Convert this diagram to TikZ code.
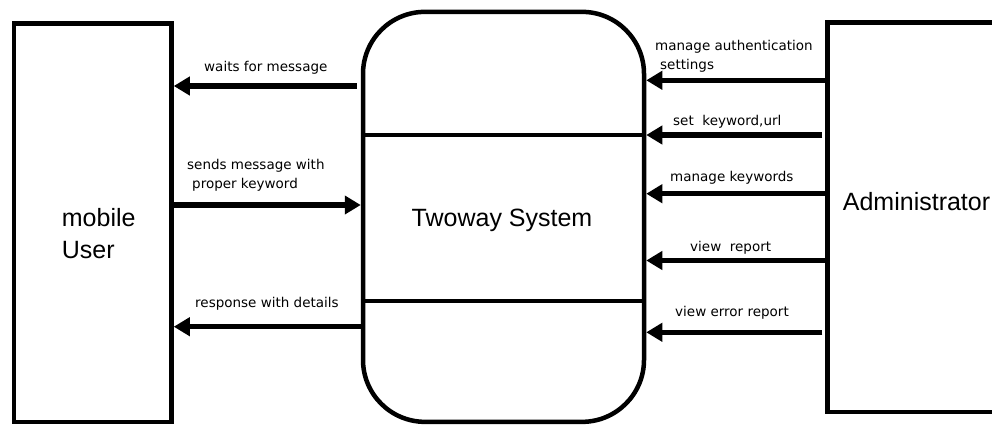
\documentclass[tikz,border=0pt]{standalone}
\usepackage{fontspec}
\setmainfont{Liberation Sans}
\newfontfamily\lblfont{DejaVu Sans}
\usetikzlibrary{arrows.meta}

\begin{document}
\begin{tikzpicture}[x=1pt,y=-1pt,
  box/.style={draw,line width=4.5pt,inner sep=0pt},
  flow/.style={line width=5.5pt,-{Triangle[length=16pt,width=18pt]}},
  lbl/.style={inner sep=0pt,anchor=base west,align=left,font=\lblfont\fontsize{13.5}{18.5}\selectfont},
  big/.style={inner sep=0pt,font=\fontsize{25}{31.6}\selectfont}]
  \useasboundingbox (0,0) rectangle (992,426);
  \clip (0,0) rectangle (992,426);
  % the three blocks
  \node[box,minimum width=157.5pt,minimum height=398.5pt] (user) at (92.75,222.75) {};
  \node[box,rounded corners=62pt,minimum width=281pt,minimum height=410pt] (sys) at (503.5,216.85) {};
  \node[box,minimum width=180pt,minimum height=389.5pt] (admin) at (917.5,217.25) {};
  \node[big,align=left,anchor=base west] (usertxt) at (61.7,258.3) {mobile\\User};
  \node[big,anchor=base] (systxt) at (502,226.7) {Twoway System};
  \node[big,anchor=base west] (admintxt) at (842.7,210) {Administrator};
  % bands inside the system
  \draw[line width=4.5pt] (sys.west |- 0,135) -- (sys.east |- 0,135);
  \draw[line width=4.5pt] (sys.west |- 0,301) -- (sys.east |- 0,301);
  % user side
  \draw[flow,shorten <=4pt] (sys.west |- 0,86) -- (user.east |- 0,86);
  \draw[flow] (user.east |- 0,205) -- (sys.west |- 0,205);
  \draw[flow] (sys.west |- 0,326.7) -- (user.east |- 0,326.7);
  \node[lbl] (waitlbl) at (204,71) {waits for message};
  \node[lbl] (sendlbl) at (187,188.4) {sends message with\\\hspace{5pt}proper keyword};
  \node[lbl] (resplbl) at (195,307) {response with details};
  % admin side
  \draw[flow] (admin.west |- 0,80.3) -- (sys.east |- 0,80.3);
  \draw[flow,shorten <=3pt] (admin.west |- 0,135) -- (sys.east |- 0,135);
  \draw[flow] (admin.west |- 0,193.7) -- (sys.east |- 0,193.7);
  \draw[flow] (admin.west |- 0,260.5) -- (sys.east |- 0,260.5);
  \draw[flow,shorten <=3pt] (admin.west |- 0,332.3) -- (sys.east |- 0,332.3);
  \node[lbl] (authlbl) at (655,69) {manage authentication\\\hspace{5pt}settings};
  \node[lbl] (urllbl) at (673,125) {set~ keyword,url};
  \node[lbl] (keylbl) at (670,181) {manage keywords};
  \node[lbl] (replbl) at (690,251) {view~ report};
  \node[lbl] (errlbl) at (675,316) {view error report};
\end{tikzpicture}
\end{document}
